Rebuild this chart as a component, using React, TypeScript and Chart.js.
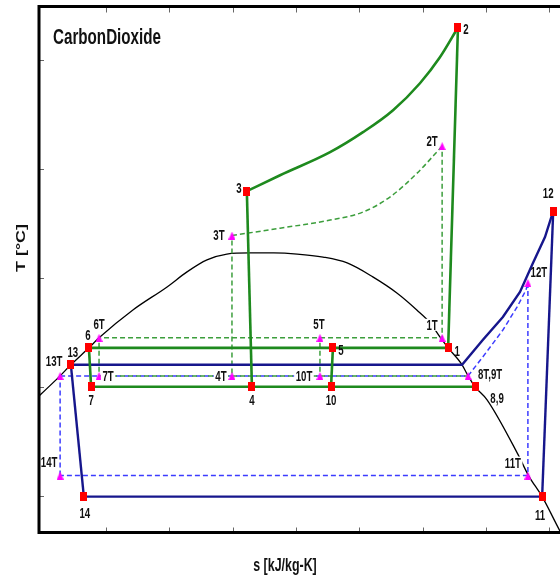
import React, { useEffect, useRef } from 'react';
import { Chart, registerables } from 'chart.js';

Chart.register(...registerables);

// ---- Data (s in kJ/kg-K, T in °C) ----
const actualLabels = ['1', '2', '3', '4', '5', '6', '7', '8,9', '10', '11', '12', '13', '14'];
const actualS = [1.881, 1.912, 1.245, 1.261, 1.517, 0.746, 0.753, 1.966, 1.511, 2.178, 2.213, 0.689, 0.730];
const actualT = [17.9, 165.1, 89.9, 0, 17.9, 17.9, 0, 0, 0, -50.5, 80.7, 10.1, -50.5];

const idealLabels = ['1T', '2T', '3T', '4T', '5T', '6T', '7T', '8T,9T', '10T', '11T', '12T', '13T', '14T'];
const idealS = [1.862, 1.862, 1.198, 1.198, 1.476, 0.778, 0.778, 1.944, 1.476, 2.133, 2.133, 0.655, 0.655];
const idealT = [22.5, 110.6, 69.5, 5.0, 22.5, 22.5, 5.0, 5.0, 5.0, -40.8, 47.7, 5.0, -40.8];

// saturation dome
const domeS = [0.560, 0.655, 0.689, 0.746, 0.778, 0.885, 0.993, 1.056, 1.119, 1.182, 1.255, 1.330, 1.404, 1.486, 1.562, 1.643, 1.719, 1.782, 1.824, 1.855, 1.881, 1.925, 1.944, 1.966, 2.004, 2.102, 2.135, 2.178, 2.235, 2.251];
const domeT = [-8.1, 5.0, 10.1, 17.9, 22.5, 35.3, 45.9, 52.8, 58.3, 61.0, 61.5, 61.5, 61.0, 59.6, 56.9, 50.5, 43.1, 35.3, 29.4, 22.9, 17.9, 10.1, 5.0, 0, -6.0, -31.2, -40.8, -50.5, -66.5, -70.6];

// actual compression 3 -> 2
const compS = [1.245, 1.350, 1.508, 1.612, 1.707, 1.792, 1.855, 1.912];
const compT = [89.9, 97.2, 107.8, 117.0, 127.1, 139.5, 151.4, 165.1];
// ideal compression 3T -> 2T
const idealCompS = [1.198, 1.350, 1.508, 1.612, 1.697, 1.783, 1.862];
const idealCompT = [69.5, 72.9, 76.6, 80.3, 87.2, 98.2, 110.6];
// actual secondary loop 13 -> 12
const heatS = [0.689, 1.925, 1.991, 2.054, 2.108, 2.149, 2.187, 2.213];
const heatT = [10.1, 10.1, 21.6, 32.1, 43.6, 56.9, 68.8, 80.7];
// ideal secondary loop 13T -> 12T
const idealHeatS = [0.655, 1.944, 1.991, 2.054, 2.099, 2.127, 2.133];
const idealHeatT = [5.0, 5.0, 13.8, 26.1, 36.7, 44.5, 47.7];

// straight segments between states
const greenSolidSegs = [['1', '2'], ['3', '4'], ['6', '1'], ['7', '8,9'], ['5', '10'], ['6', '7']];
const blueSolidSegs = [['12', '11'], ['11', '14'], ['14', '13']];
const greenDashSegs = [['6T', '1T'], ['1T', '2T'], ['3T', '4T'], ['5T', '10T'], ['6T', '7T'], ['7T', '8T,9T']];
const blueDashSegs = [['12T', '11T'], ['11T', '14T'], ['14T', '13T']];

// axis tick values
const sTicks = [0.8, 1.0, 1.2, 1.4, 1.6, 1.8, 2.0, 2.2];
const tTicks = [-50, 0, 50, 100, 150];

// ---- Styles ----
const labelOffsets: Record<string, [number, number]> = {
  '1': [9, 3], '2': [8, 1], '3': [-8, -3], '4': [0, 13], '5': [8, 2], '6': [-1, -13], '7': [0, 13],
  '8,9': [22, 11], '10': [0, 13], '11': [-2, 18], '12': [-5, -18], '13': [2, -13], '14': [1, 16],
  '1T': [-10, -13], '2T': [-10, -5], '3T': [-13, -1], '4T': [-11, 0], '5T': [-1, -14], '6T': [0, -14],
  '7T': [9, 0], '8T,9T': [22, -2], '10T': [-16, 0], '11T': [-15, -13], '12T': [11, -11], '13T': [-6, -15],
  '14T': [-11, -14],
};
const bgLabels = ['1T', '4T', '7T', '10T', '11T'];
const FONT = "'Liberation Sans', Arial, Helvetica, sans-serif";
const SX = 0.69;

const GREEN = '#1e8a1e';
const GREEN_D = '#3c9e3c';
const BLUE = '#16168c';
const BLUE_D = '#3c3cff';

function pt(label: string) {
  let i = actualLabels.indexOf(label);
  if (i >= 0) return { x: actualS[i], y: actualT[i] };
  i = idealLabels.indexOf(label);
  return { x: idealS[i], y: idealT[i] };
}

function zipPts(s: number[], t: number[]) {
  return s.map((v, i) => ({ x: v, y: t[i] }));
}

function drawScaledText(ctx: CanvasRenderingContext2D, text: string, x: number, y: number, size: number, align: CanvasTextAlign) {
  ctx.save();
  ctx.translate(x, y);
  ctx.scale(SX, 1);
  ctx.font = `bold ${size}px ${FONT}`;
  ctx.textAlign = align;
  ctx.textBaseline = 'alphabetic';
  ctx.fillText(text, 0, 0);
  ctx.restore();
}

const framePlugin = {
  id: 'frame',
  afterDatasetsDraw(chart: any) {
    const { ctx, chartArea } = chart;
    const xs = chart.scales.x;
    const ys = chart.scales.y;
    ctx.save();
    // ticks
    ctx.strokeStyle = '#666';
    ctx.lineWidth = 1;
    ctx.beginPath();
    sTicks.forEach((v) => {
      const px = Math.round(xs.getPixelForValue(v)) + 0.5;
      ctx.moveTo(px, chartArea.top);
      ctx.lineTo(px, chartArea.top + 6);
      ctx.moveTo(px, chartArea.bottom);
      ctx.lineTo(px, chartArea.bottom - 5);
    });
    tTicks.forEach((v) => {
      const py = Math.round(ys.getPixelForValue(v)) + 0.5;
      ctx.moveTo(chartArea.left, py);
      ctx.lineTo(chartArea.left + 5, py);
    });
    ctx.stroke();
    // frame
    ctx.strokeStyle = '#000';
    ctx.lineWidth = 3;
    ctx.beginPath();
    ctx.moveTo(chartArea.right, chartArea.top);
    ctx.lineTo(chartArea.left, chartArea.top);
    ctx.lineTo(chartArea.left, chartArea.bottom);
    ctx.lineTo(chartArea.right, chartArea.bottom);
    ctx.stroke();

    // point labels
    ctx.fillStyle = '#111';
    const all = actualLabels.concat(idealLabels);
    all.forEach((lab) => {
      const p = pt(lab);
      const off = labelOffsets[lab] || [0, 0];
      const cx = xs.getPixelForValue(p.x) + off[0];
      const cy = ys.getPixelForValue(p.y) + off[1];
      if (bgLabels.includes(lab)) {
        ctx.font = `bold 14px ${FONT}`;
        const w = ctx.measureText(lab).width * SX + 3;
        ctx.fillStyle = '#fff';
        ctx.fillRect(cx - w / 2, cy - 6, w, 12);
        ctx.fillStyle = '#111';
      }
      drawScaledText(ctx, lab, cx, cy + 5, 14, 'center');
    });

    // chart title
    drawScaledText(ctx, 'CarbonDioxide', chartArea.left + 14, chartArea.top + 37, 22, 'left');

    // axis titles
    drawScaledText(ctx, 's [kJ/kg-K]', 285, 571, 18, 'center');
    ctx.save();
    ctx.translate(25, 248);
    ctx.scale(SX, 1);
    ctx.rotate(-Math.PI / 2);
    ctx.font = `bold 18px ${FONT}`;
    ctx.textAlign = 'center';
    ctx.textBaseline = 'alphabetic';
    ctx.fillText('T [°C]', 0, 0);
    ctx.restore();

    ctx.restore();
  },
};

function makeRect() {
  const c = document.createElement('canvas');
  c.width = 7;
  c.height = 9;
  const g = c.getContext('2d')!;
  g.fillStyle = '#ff0000';
  g.fillRect(0, 0, 7, 9);
  return c;
}

function makeTri() {
  const c = document.createElement('canvas');
  c.width = 7;
  c.height = 8;
  const g = c.getContext('2d')!;
  g.fillStyle = '#ff00ff';
  g.beginPath();
  g.moveTo(3.5, 0);
  g.lineTo(7, 8);
  g.lineTo(0, 8);
  g.closePath();
  g.fill();
  return c;
}

export default function App() {
  const ref = useRef<HTMLCanvasElement | null>(null);

  useEffect(() => {
    if (!ref.current) return;
    const rectImg = makeRect();
    const triImg = makeTri();

    const seg = (pair: string[], color: string, width: number, dash: number[], offset = 0) => ({
      data: [pt(pair[0]), pt(pair[1])],
      showLine: true,
      borderColor: color,
      borderWidth: width,
      borderDash: dash,
      borderDashOffset: offset,
      pointRadius: 0,
      tension: 0,
      fill: false,
    });
    const path = (s: number[], t: number[], color: string, width: number, dash: number[], curve: boolean) => ({
      data: zipPts(s, t),
      showLine: true,
      borderColor: color,
      borderWidth: width,
      borderDash: dash,
      pointRadius: 0,
      tension: 0,
      cubicInterpolationMode: curve ? 'monotone' : 'default',
      fill: false,
    });

    const datasets: any[] = [
      {
        data: zipPts(actualS, actualT),
        showLine: false,
        pointStyle: rectImg,
        pointRadius: 4,
      },
      {
        data: zipPts(idealS, idealT),
        showLine: false,
        pointStyle: triImg,
        pointRadius: 4,
      },
      ...greenSolidSegs.map((p) => seg(p, GREEN, 2.6, [])),
      path(compS, compT, GREEN, 2.6, [], true),
      ...blueSolidSegs.map((p) => seg(p, BLUE, 2.4, [])),
      path(heatS, heatT, BLUE, 2.4, [], false),
      ...greenDashSegs.map((p) => seg(p, GREEN_D, 1.5, [5, 3], 3)),
      path(idealCompS, idealCompT, GREEN_D, 1.5, [5, 3], true),
      ...blueDashSegs.map((p) => seg(p, BLUE_D, 1.5, [5, 3])),
      path(idealHeatS, idealHeatT, BLUE_D, 1.5, [5, 3], false),
      path(domeS, domeT, '#000', 1.3, [], true),
    ];

    const chart = new Chart(ref.current, {
      type: 'scatter',
      data: { datasets },
      options: {
        animation: false,
        responsive: false,
        maintainAspectRatio: false,
        events: [],
        layout: { autoPadding: false, padding: { left: 39, top: 6.5, right: 0, bottom: 44.5 } },
        plugins: {
          legend: { display: false },
          tooltip: { enabled: false },
          title: { display: false },
        },
        scales: {
          x: { type: 'linear', min: 0.5883, max: 2.424, display: false },
          y: { type: 'linear', min: -66.97, max: 174.77, display: false },
        },
      },
      plugins: [framePlugin],
    } as any);
    return () => chart.destroy();
  }, []);

  return (
    <div style={{ position: 'absolute', left: 0, top: 0, width: 560, height: 577, overflow: 'hidden', background: '#fff' }}>
      <canvas ref={ref} width={620} height={577} style={{ display: 'block', width: 620, height: 577 }} />
    </div>
  );
}
